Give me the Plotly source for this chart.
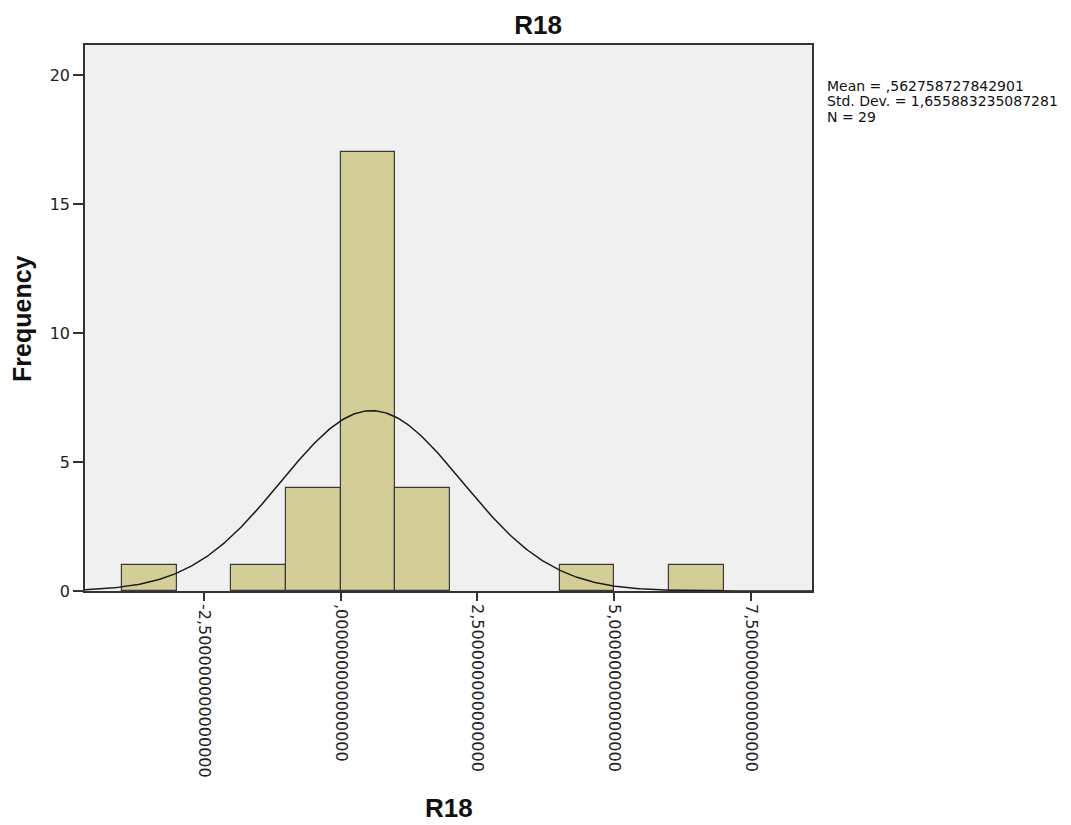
import numpy as np
import plotly.graph_objects as go

# ---- data ----
bin_starts = [-4, -2, -1, 0, 1, 4, 6]
bin_width = 1.0
counts = [1, 1, 4, 17, 4, 1, 1]
mean_val = 0.562758727842901
sd_val = 1.655883235087281
n_val = 29
x_tickvals = [-2.5, 0, 2.5, 5, 7.5]
x_ticktext = ["-2,500000000000000", ",000000000000000", "2,500000000000000",
              "5,000000000000000", "7,500000000000000"]
y_tickvals = [0, 5, 10, 15, 20]
stat_lines = [
    "Mean = ,562758727842901",
    "Std. Dev. = 1,655883235087281",
    "N = 29",
]

x_range = [-4.675, 8.615]
y_range = [0, 21.16]

centers = [s + bin_width / 2 for s in bin_starts]
xs = np.linspace(x_range[0], x_range[1], 400)
ys = n_val * bin_width / (sd_val * np.sqrt(2 * np.pi)) * np.exp(-0.5 * ((xs - mean_val) / sd_val) ** 2)

FONT = "Liberation Sans, Arial, sans-serif"
TICKFONT = "DejaVu Sans, Verdana, sans-serif"

fig = go.Figure()
fig.add_trace(go.Bar(
    x=centers, y=counts, width=[bin_width] * len(counts),
    marker=dict(color="#D3CE97", line=dict(color="#3a3a3a", width=1.2)),
    showlegend=False, hoverinfo="x+y",
))
fig.add_trace(go.Scatter(
    x=xs, y=ys, mode="lines", line=dict(color="#1a1a1a", width=1.5),
    showlegend=False, hoverinfo="skip",
))

annotations = [
    dict(xref="paper", yref="paper", x=0.5, y=-0.397, xanchor="center", yanchor="middle",
         showarrow=False, text="<b>R18</b>", font=dict(size=26, color="#111111", family=FONT)),
    dict(xref="paper", yref="paper", x=-0.0867, y=0.5, xanchor="center", yanchor="middle",
         showarrow=False, textangle=-90, text="<b>Frequency</b>",
         font=dict(size=25, color="#111111", family=FONT)),
]
for i, (line, yy) in enumerate(zip(stat_lines, [0.925, 0.897, 0.868])):
    annotations.append(dict(
        xref="paper", yref="paper", x=1.0179, y=yy, xanchor="left", yanchor="middle",
        showarrow=False, align="left", text=line,
        font=dict(size=14, color="#111111", family=TICKFONT),
    ))

fig.update_layout(
    width=1071, height=825,
    margin=dict(l=85, r=259, t=45, b=234),
    paper_bgcolor="white", plot_bgcolor="#F0F0F0",
    font=dict(family=FONT, color="#222222", size=16),
    bargap=0,
    title=dict(text="<b>R18</b>", x=538 / 1071, xanchor="center", xref="container",
               y=1 - 25 / 825, yanchor="middle", yref="container",
               font=dict(size=26, color="#111111")),
    xaxis=dict(
        range=x_range, tickvals=x_tickvals, ticktext=x_ticktext, tickangle=90,
        ticks="outside", ticklen=8, tickcolor="#333333", tickwidth=1.5,
        showline=True, linecolor="#333333", linewidth=1.5, mirror=True,
        showgrid=False, zeroline=False,
        tickfont=dict(size=16, color="#222222", family=TICKFONT),
    ),
    yaxis=dict(
        range=y_range, tickvals=y_tickvals,
        ticks="outside", ticklen=10, tickcolor="#333333", tickwidth=1.5,
        showline=True, linecolor="#333333", linewidth=1.5, mirror=True,
        showgrid=False, zeroline=False,
        tickfont=dict(size=16, color="#222222", family=TICKFONT),
    ),
    annotations=annotations,
)

fig.write_html("out.html")
